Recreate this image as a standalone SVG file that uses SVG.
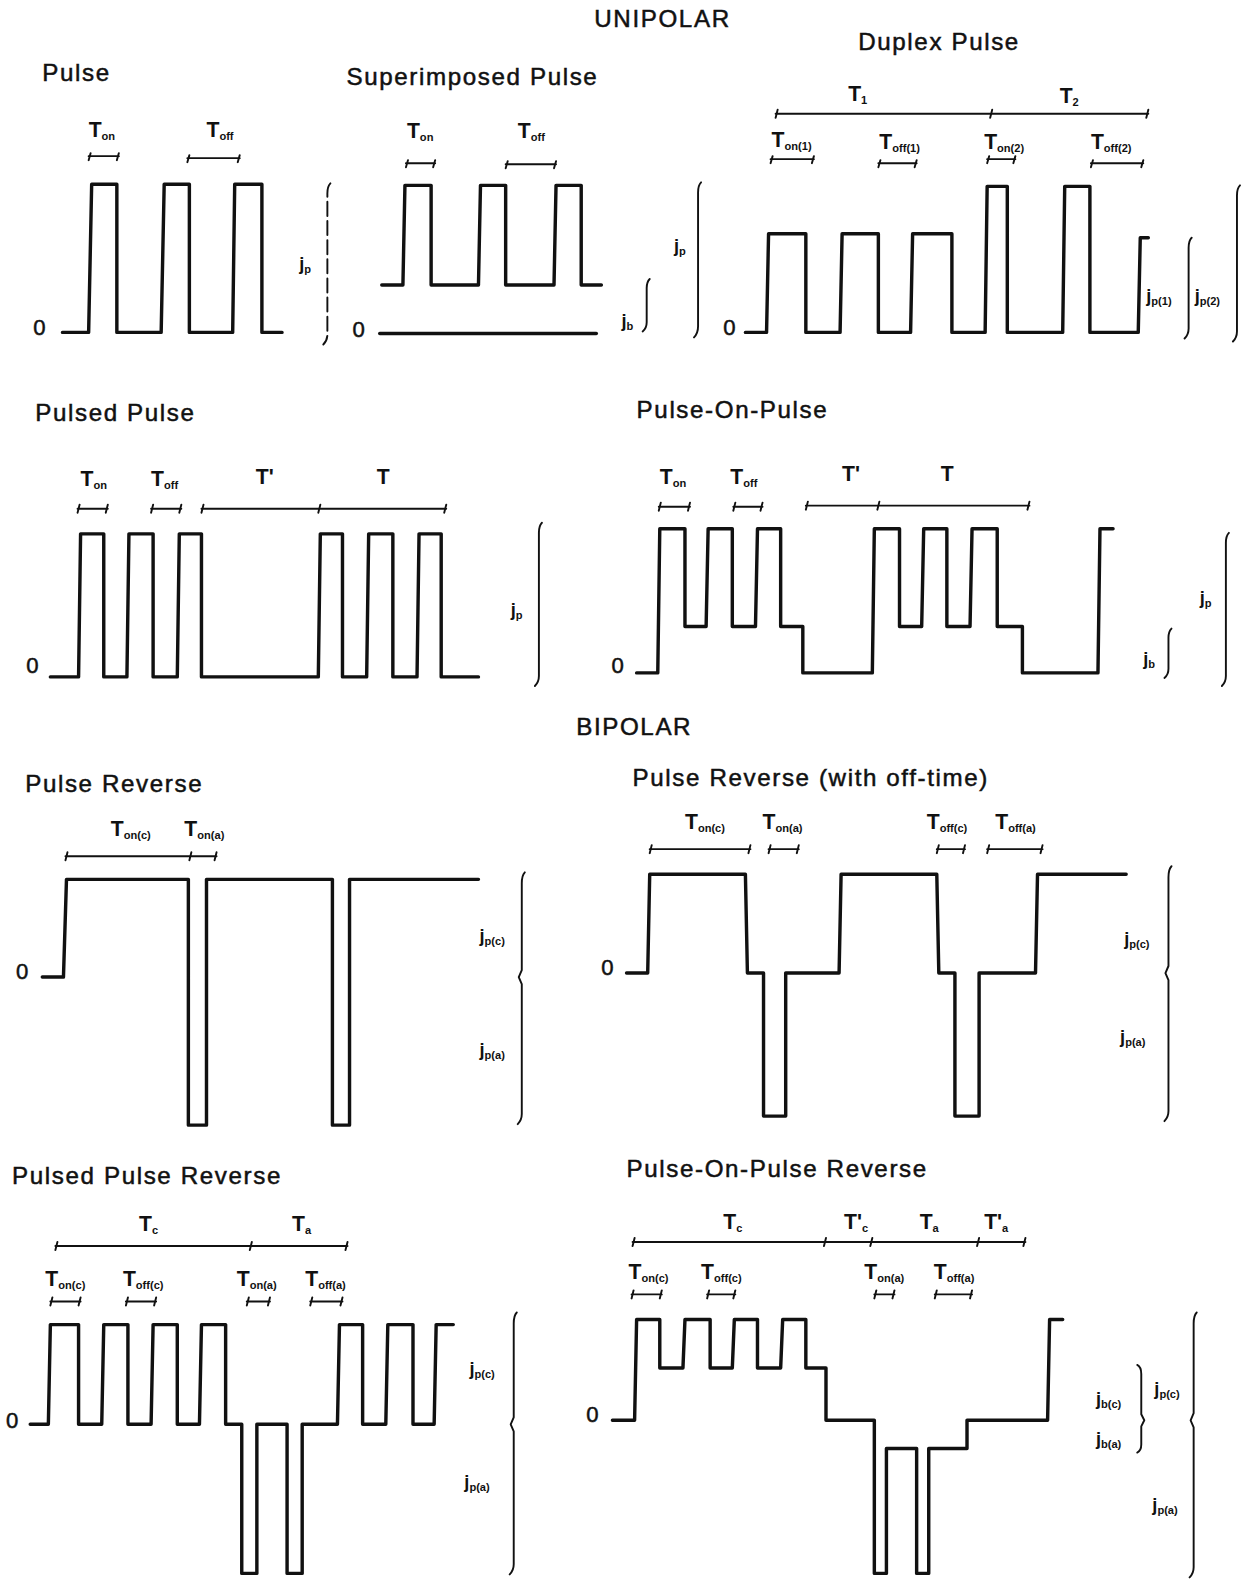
<svg xmlns="http://www.w3.org/2000/svg" width="1250" height="1580" viewBox="0 0 1250 1580">
<style>
.w{fill:none;stroke:#111;stroke-width:3.4;stroke-linejoin:round;stroke-linecap:round}
.b{fill:none;stroke:#111;stroke-width:1.9;stroke-linecap:round;stroke-linejoin:round}
.ttl{font-family:"Liberation Sans",Arial,sans-serif;font-size:24px;letter-spacing:1.6px;fill:#111;stroke:#111;stroke-width:0.5}
.z{font-family:"Liberation Sans",Arial,sans-serif;font-size:22px;fill:#111;stroke:#111;stroke-width:0.5}
.tl{font-family:"Liberation Sans",Arial,sans-serif;font-size:21px;font-weight:bold;fill:#111}
.jl{font-family:"Liberation Sans",Arial,sans-serif;font-size:18px;font-weight:bold;fill:#111}
.s{font-size:11px}
</style>
<rect width="1250" height="1580" fill="#fff"/>
<g transform="scale(1.0073)">
<text class="ttl" x="590" y="27">UNIPOLAR</text>
<text class="ttl" x="572" y="730">BIPOLAR</text>

<g id="pulse">
<text class="ttl" x="42" y="80">Pulse</text>
<text class="tl" x="88" y="136">T<tspan class="s" dy="3">on</tspan></text>
<text class="tl" x="205" y="136">T<tspan class="s" dy="3">off</tspan></text>
<path class="b" d="M88,159 L90,152 M88,155 H118 M116,159 L118,152 M186,161 L188,154 M186,157 H238 M236,161 L238,154"/>
<path class="w" d="M62,330 H88 L91,183 H116 V330 H160 L163,183 H188 V330 H231 L233,183 H260 V330 H280"/>
<text class="z" x="33" y="333">0</text>
<text class="jl" x="297" y="268">j<tspan class="s" dy="3">p</tspan></text>
<path class="b" stroke-dasharray="14 5" d="M328,182 Q325,185 325,192 V332 Q325,338 321,342"/>
</g>

<g id="superimposed">
<text class="ttl" x="344" y="84">Superimposed Pulse</text>
<text class="tl" x="404" y="137">T<tspan class="s" dy="3">on</tspan></text>
<text class="tl" x="514" y="137">T<tspan class="s" dy="3">off</tspan></text>
<path class="b" d="M403,166 L405,159 M403,162 H432 M430,166 L432,159 M502,167 L504,160 M502,163 H552 M550,167 L552,160"/>
<path class="w" d="M379,283 H400 L402,184 H428 V283 H475 L477,184 H502 V283 H550 L552,184 H577 V283 H597"/>
<path class="w" stroke-width="2.6" d="M377,331 H592"/>
<text class="z" x="350" y="335">0</text>
<text class="jl" x="617" y="325">j<tspan class="s" dy="3">b</tspan></text>
<path class="b" d="M645,277 Q642,280 642,286 V320 Q642,326 638,329"/>
<text class="jl" x="669" y="250">j<tspan class="s" dy="3">p</tspan></text>
<path class="b" d="M696,181 Q693,184 693,191 V324 Q693,331 689,335"/>
</g>

<g id="duplex">
<text class="ttl" x="852" y="50">Duplex Pulse</text>
<text class="tl" x="842" y="100">T<tspan class="s" dy="3">1</tspan></text>
<text class="tl" x="1052" y="102">T<tspan class="s" dy="3">2</tspan></text>
<path class="b" d="M770,117 L772,109 M770,113 H1140 M983,117 L985,109 M1138,117 L1140,109"/>
<text class="tl" x="766" y="146">T<tspan class="s" dy="3">on(1)</tspan></text>
<text class="tl" x="873" y="148">T<tspan class="s" dy="3">off(1)</tspan></text>
<text class="tl" x="977" y="148">T<tspan class="s" dy="3">on(2)</tspan></text>
<text class="tl" x="1083" y="148">T<tspan class="s" dy="3">off(2)</tspan></text>
<path class="b" d="M765,162 L767,155 M765,158 H808 M806,162 L808,155 M872,166 L874,159 M872,162 H910 M908,166 L910,159 M980,162 L982,155 M980,158 H1008 M1006,162 L1008,155 M1083,166 L1085,159 M1083,162 H1135 M1133,166 L1135,159"/>
<path class="w" d="M740,330 H761 L763,232 H800 V330 H834 L836,232 H872 V330 H904 L906,232 H945 V330 H978 L980,185 H1000 V330 H1055 L1057,185 H1082 V330 H1130 L1132,236 H1140"/>
<text class="z" x="718" y="333">0</text>
<text class="jl" x="1138" y="300">j<tspan class="s" dy="3">p(1)</tspan></text>
<path class="b" d="M1183,236 Q1180,239 1180,246 V326 Q1180,332 1176,336"/>
<text class="jl" x="1186" y="300">j<tspan class="s" dy="3">p(2)</tspan></text>
<path class="b" d="M1231,184 Q1228,187 1228,194 V329 Q1228,335 1224,339"/>
</g>

<g id="pulsed-pulse">
<text class="ttl" x="35" y="418">Pulsed Pulse</text>
<text class="tl" x="80" y="482">T<tspan class="s" dy="3">on</tspan></text>
<text class="tl" x="150" y="482">T<tspan class="s" dy="3">off</tspan></text>
<text class="tl" x="254" y="480">T'</text>
<text class="tl" x="374" y="480">T</text>
<path class="b" d="M77,509 L79,501 M77,505 H107 M105,509 L107,501 M150,509 L152,501 M150,505 H180 M178,509 L180,501 M200,509 L202,501 M200,505 H443 M316,509 L318,501 M441,509 L443,501"/>
<path class="w" d="M50,672 H78 L80,530 H103 V672 H126 L128,530 H152 V672 H176 L178,530 H200 V672 H316 L318,530 H340 V672 H364 L366,530 H390 V672 H414 L416,530 H438 V672 H475"/>
<text class="z" x="26" y="668">0</text>
<text class="jl" x="507" y="612">j<tspan class="s" dy="3">p</tspan></text>
<path class="b" d="M538,519 Q535,522 535,529 V671 Q535,677 531,681"/>
</g>

<g id="pulse-on-pulse">
<text class="ttl" x="632" y="415">Pulse-On-Pulse</text>
<text class="tl" x="655" y="480">T<tspan class="s" dy="3">on</tspan></text>
<text class="tl" x="725" y="480">T<tspan class="s" dy="3">off</tspan></text>
<text class="tl" x="836" y="478">T'</text>
<text class="tl" x="934" y="478">T</text>
<path class="b" d="M654,507 L656,499 M654,503 H685 M683,507 L685,499 M728,507 L730,499 M728,503 H757 M755,507 L757,499 M800,506 L802,498 M800,502 H1022 M871,506 L873,498 M1020,506 L1022,498"/>
<path class="w" d="M632,668 H653 L655,525 H680 V622 H701 L703,525 H727 V622 H750 L752,525 H775 V622 H797 V668 H866 L868,525 H893 V622 H915 L917,525 H940 V622 H963 L965,525 H990 V622 H1015 V668 H1090 L1092,525 H1105"/>
<text class="z" x="607" y="668">0</text>
<text class="jl" x="1135" y="660">j<tspan class="s" dy="3">b</tspan></text>
<path class="b" d="M1163,624 Q1160,627 1160,633 V664 Q1160,670 1156,673"/>
<text class="jl" x="1191" y="600">j<tspan class="s" dy="3">p</tspan></text>
<path class="b" d="M1220,529 Q1217,532 1217,539 V671 Q1217,677 1213,681"/>
</g>

<g id="pulse-reverse">
<text class="ttl" x="25" y="786">Pulse Reverse</text>
<text class="tl" x="110" y="830">T<tspan class="s" dy="3">on(c)</tspan></text>
<text class="tl" x="183" y="830">T<tspan class="s" dy="3">on(a)</tspan></text>
<path class="b" d="M65,854 L67,846 M65,850 H215 M188,854 L190,846 M213,854 L215,846"/>
<path class="w" d="M42,970 H63 L66,873 H187 V1117 H205 V873 H330 V1117 H347 V873 H475"/>
<text class="z" x="16" y="972">0</text>
<text class="jl" x="476" y="935">j<tspan class="s" dy="3">p(c)</tspan></text>
<text class="jl" x="476" y="1048">j<tspan class="s" dy="3">p(a)</tspan></text>
<path class="b" d="M521,866 Q518,869 518,877 V963 L515,970 L518,977 V1106 Q518,1112 514,1116"/>
</g>

<g id="pulse-reverse-offtime">
<text class="ttl" x="628" y="780">Pulse Reverse (with off-time)</text>
<text class="tl" x="680" y="823">T<tspan class="s" dy="3">on(c)</tspan></text>
<text class="tl" x="757" y="823">T<tspan class="s" dy="3">on(a)</tspan></text>
<text class="tl" x="920" y="823">T<tspan class="s" dy="3">off(c)</tspan></text>
<text class="tl" x="988" y="823">T<tspan class="s" dy="3">off(a)</tspan></text>
<path class="b" d="M645,847 L647,839 M645,843 H745 M743,847 L745,839 M763,847 L765,839 M763,843 H793 M791,847 L793,839 M930,847 L932,839 M930,843 H958 M956,847 L958,839 M980,847 L982,839 M980,843 H1035 M1033,847 L1035,839"/>
<path class="w" d="M622,966 H643 L645,868 H740 L742,966 H758 V1108 H780 V966 H833 L835,868 H930 L932,966 H948 V1108 H972 V966 H1028 L1030,868 H1118"/>
<text class="z" x="597" y="968">0</text>
<text class="jl" x="1116" y="938">j<tspan class="s" dy="3">p(c)</tspan></text>
<text class="jl" x="1112" y="1035">j<tspan class="s" dy="3">p(a)</tspan></text>
<path class="b" d="M1163,860 Q1160,863 1160,871 V959 L1157,966 L1160,973 V1103 Q1160,1109 1156,1113"/>
</g>

<g id="pulsed-pulse-reverse">
<text class="ttl" x="12" y="1175">Pulsed Pulse Reverse</text>
<text class="tl" x="138" y="1222">T<tspan class="s" dy="3">c</tspan></text>
<text class="tl" x="290" y="1222">T<tspan class="s" dy="3">a</tspan></text>
<path class="b" d="M55,1241 L57,1233 M55,1237 H345 M248,1241 L250,1233 M343,1241 L345,1233"/>
<text class="tl" x="45" y="1277">T<tspan class="s" dy="3">on(c)</tspan></text>
<text class="tl" x="122" y="1277">T<tspan class="s" dy="3">off(c)</tspan></text>
<text class="tl" x="235" y="1277">T<tspan class="s" dy="3">on(a)</tspan></text>
<text class="tl" x="303" y="1277">T<tspan class="s" dy="3">off(a)</tspan></text>
<path class="b" d="M50,1296 L52,1288 M50,1292 H80 M78,1296 L80,1288 M125,1296 L127,1288 M125,1292 H155 M153,1296 L155,1288 M245,1296 L247,1288 M245,1292 H268 M266,1296 L268,1288 M308,1296 L310,1288 M308,1292 H340 M338,1296 L340,1288"/>
<path class="w" d="M30,1414 H48 L50,1315 H78 V1414 H101 L103,1315 H127 V1414 H150 L152,1315 H176 V1414 H198 L200,1315 H224 V1414 H240 V1562 H255 V1414 H285 V1562 H300 V1414 H335 L337,1315 H360 V1414 H383 L385,1315 H410 V1414 H431 L433,1315 H450"/>
<text class="z" x="6" y="1418">0</text>
<text class="jl" x="466" y="1365">j<tspan class="s" dy="3">p(c)</tspan></text>
<text class="jl" x="461" y="1477">j<tspan class="s" dy="3">p(a)</tspan></text>
<path class="b" d="M513,1303 Q510,1306 510,1314 V1407 L507,1414 L510,1421 V1553 Q510,1559 506,1563"/>
</g>

<g id="pulse-on-pulse-reverse">
<text class="ttl" x="622" y="1168">Pulse-On-Pulse Reverse</text>
<text class="tl" x="718" y="1220">T<tspan class="s" dy="3">c</tspan></text>
<text class="tl" x="838" y="1220">T'<tspan class="s" dy="3">c</tspan></text>
<text class="tl" x="913" y="1220">T<tspan class="s" dy="3">a</tspan></text>
<text class="tl" x="977" y="1220">T'<tspan class="s" dy="3">a</tspan></text>
<path class="b" d="M628,1237 L630,1229 M628,1233 H1018 M818,1237 L820,1229 M864,1237 L866,1229 M970,1237 L972,1229 M1016,1237 L1018,1229"/>
<text class="tl" x="624" y="1270">T<tspan class="s" dy="3">on(c)</tspan></text>
<text class="tl" x="696" y="1270">T<tspan class="s" dy="3">off(c)</tspan></text>
<text class="tl" x="858" y="1270">T<tspan class="s" dy="3">on(a)</tspan></text>
<text class="tl" x="927" y="1270">T<tspan class="s" dy="3">off(a)</tspan></text>
<path class="b" d="M627,1289 L629,1281 M627,1285 H657 M655,1289 L657,1281 M702,1289 L704,1281 M702,1285 H730 M728,1289 L730,1281 M868,1289 L870,1281 M868,1285 H888 M886,1289 L888,1281 M928,1289 L930,1281 M928,1285 H965 M963,1289 L965,1281"/>
<path class="w" d="M608,1410 H630 L632,1310 H655 V1358 H678 L680,1310 H705 V1358 H727 L729,1310 H752 V1358 H775 L777,1310 H800 V1358 H820 V1410 H868 V1562 H880 V1438 H910 V1562 H922 V1438 H960 V1410 H1040 L1042,1310 H1055"/>
<text class="z" x="582" y="1412">0</text>
<text class="jl" x="1088" y="1395">j<tspan class="s" dy="3">b(c)</tspan></text>
<text class="jl" x="1088" y="1435">j<tspan class="s" dy="3">b(a)</tspan></text>
<path class="b" d="M1129,1355 Q1133,1357 1133,1364 V1404 L1136,1410 L1133,1416 V1434 Q1133,1440 1129,1442"/>
<text class="jl" x="1146" y="1385">j<tspan class="s" dy="3">p(c)</tspan></text>
<text class="jl" x="1144" y="1500">j<tspan class="s" dy="3">p(a)</tspan></text>
<path class="b" d="M1188,1303 Q1185,1306 1185,1314 V1403 L1182,1410 L1185,1417 V1556 Q1185,1562 1181,1566"/>
</g>
</g>
</svg>
